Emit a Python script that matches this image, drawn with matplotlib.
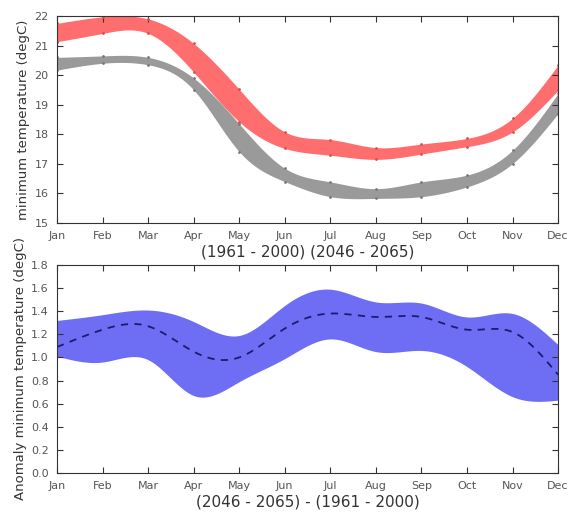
import matplotlib
matplotlib.use('Agg')
import matplotlib.pyplot as plt
from matplotlib.ticker import FormatStrFormatter
import numpy as np

months = ['Jan', 'Feb', 'Mar', 'Apr', 'May', 'Jun', 'Jul', 'Aug', 'Sep', 'Oct', 'Nov', 'Dec']

# 1961-2000 minimum temperature envelope (degC)
base_hi = [20.60, 20.65, 20.60, 19.90, 18.35, 16.85, 16.39, 16.16, 16.39, 16.62, 17.46, 19.38]
base_lo = [20.17, 20.40, 20.35, 19.50, 17.41, 16.40, 15.89, 15.83, 15.89, 16.22, 17.01, 18.70]
# 2046-2065 minimum temperature envelope (degC)
fut_hi = [21.75, 21.97, 21.90, 21.07, 19.52, 18.08, 17.82, 17.55, 17.67, 17.86, 18.54, 20.34]
fut_lo = [21.13, 21.41, 21.41, 20.10, 18.42, 17.52, 17.29, 17.15, 17.33, 17.58, 18.08, 19.49]
# anomaly (future - base)
anom_hi = [1.32, 1.37, 1.41, 1.31, 1.19, 1.45, 1.59, 1.48, 1.47, 1.35, 1.38, 1.11]
anom_lo = [1.01, 0.96, 0.98, 0.67, 0.79, 0.99, 1.16, 1.05, 1.06, 0.92, 0.66, 0.63]
anom_mean = [1.09, 1.24, 1.27, 1.05, 1.00, 1.25, 1.38, 1.35, 1.35, 1.24, 1.22, 0.85]


def spline(y, n=300):
    # natural cubic spline through monthly values
    y = np.asarray(y, float)
    m = len(y)
    x = np.arange(m, dtype=float)
    A = np.zeros((m, m))
    b = np.zeros(m)
    A[0, 0] = A[-1, -1] = 1.0
    for i in range(1, m - 1):
        A[i, i - 1], A[i, i], A[i, i + 1] = 1.0, 4.0, 1.0
        b[i] = 6.0 * (y[i + 1] - 2 * y[i] + y[i - 1])
    M = np.linalg.solve(A, b)
    xs = np.linspace(0, m - 1, n)
    k = np.clip(np.floor(xs).astype(int), 0, m - 2)
    t = xs - k
    ys = ((1 - t) * y[k] + t * y[k + 1]
          + ((1 - t) ** 3 - (1 - t)) * M[k] / 6.0
          + (t ** 3 - t) * M[k + 1] / 6.0)
    return xs, ys


fig = plt.figure(figsize=(5.72, 5.12), dpi=100)
ax1 = fig.add_axes([0.0997, 0.5645, 0.876, 0.4043])
ax2 = fig.add_axes([0.0997, 0.0762, 0.876, 0.4063])
xm = np.arange(12)

for lo, hi, fc, ec in [(base_lo, base_hi, '#9a9a9a', '#7a7a7a'),
                       (fut_lo, fut_hi, '#ff6e6e', '#d85050')]:
    xs, ylo = spline(lo)
    _, yhi = spline(hi)
    ax1.fill_between(xs, ylo, yhi, color=fc, lw=0)
    ax1.plot(xm, lo, '.', color=ec, ms=2)
    ax1.plot(xm, hi, '.', color=ec, ms=2)

ax1.set_ylim(15, 22)
ax1.set_ylabel('minimum temperature (degC)', fontsize=9.5, color='#333333')
ax1.set_xlabel('(1961 - 2000) (2046 - 2065)', fontsize=11, labelpad=2, color='#333333')

xs, ylo = spline(anom_lo)
_, yhi = spline(anom_hi)
_, ymean = spline(anom_mean)
ax2.fill_between(xs, ylo, yhi, color='#6e6ef5', lw=0)
ax2.plot(xs, ymean, '--', color='#1c1c6e', lw=1.3, dashes=(4, 3.5))
ax2.set_ylim(0, 1.8)
ax2.set_yticks(np.arange(0, 1.81, 0.2))
ax2.yaxis.set_major_formatter(FormatStrFormatter('%.1f'))
ax2.set_ylabel('Anomaly minimum temperature (degC)', fontsize=9.5, color='#333333')
ax2.set_xlabel('(2046 - 2065) - (1961 - 2000)', fontsize=11, labelpad=2, color='#333333')

for ax in (ax1, ax2):
    ax.set_xlim(0, 11)
    ax.set_xticks(xm)
    ax.set_xticklabels(months)
    ax.tick_params(direction='in', top=True, right=True, labelsize=8,
                   colors='#333333', labelcolor='#555555', length=4, pad=6)
    ax.yaxis.labelpad = 3
    for s in ax.spines.values():
        s.set_color('#333333')

plt.savefig('out.png', dpi=100)
